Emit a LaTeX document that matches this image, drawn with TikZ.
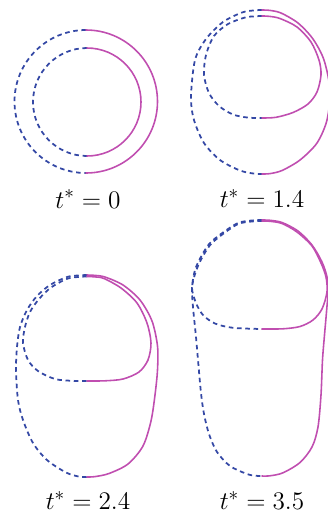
\documentclass[tikz,border=0pt]{standalone}
\definecolor{curveblue}{RGB}{52,72,165}
\definecolor{curvepink}{RGB}{192,78,176}
\begin{document}
\begin{tikzpicture}[x={(0.02cm,0cm)}, y={(0cm,-0.02cm)},line join=round,line cap=round,
	lefthalf/.style={curveblue, line width=1pt, dash pattern=on 2.6pt off 2.1pt, line cap=butt},
	righthalf/.style={curvepink, line width=.9pt},
	timelabel/.style={anchor=base, inner sep=0pt, font=\fontsize{15}{18}\selectfont}]

	% Khung hình
	\useasboundingbox (0,0) rectangle (328,512);
	\clip (0,0) rectangle (328,512);

	% t* = 0 : hai đường tròn
	\draw[lefthalf] (86,30) arc[start angle=270, end angle=90, radius=71.5];
	\draw[righthalf] (86,30) arc[start angle=-90, end angle=90, radius=71.5];
	\draw[lefthalf] (87,48) arc[start angle=270, end angle=90, radius=54];
	\draw[righthalf] (87,48) arc[start angle=-90, end angle=90, radius=54];
	\node[timelabel] (lab0) at (88,208) {$t^* = 0$};

	% t* = 1.4
	\draw[lefthalf] plot[smooth] coordinates {(262,10) (254,10.4) (242,12.5) (223,22) (206,39) (195,60) (191,97) (194,120) (204,143) (220,160) (240,170.5) (254,173.6) (262,174)};
	\draw[righthalf] plot[smooth] coordinates {(262,10) (270,10.4) (281,13) (298,23) (313,39) (324,60) (330,90) (327,120) (317,143) (300,160) (282,170.5) (270,173.6) (262,174)};
	\draw[lefthalf] plot[smooth] coordinates {(262,16) (255,16.3) (245,17.5) (228,24) (214,36) (206,55) (204,75) (209,93) (219,106) (233,114.5) (248,117.6) (262,118)};
	\draw[righthalf] plot[smooth] coordinates {(262,16) (269,16.3) (280,18.5) (297,27) (311,42) (319,60) (321,75) (317,92) (308,104) (293,112.5) (276,117.3) (262,118)};
	\node[timelabel] (lab1) at (262,207.5) {$t^* = 1.4$};

	% t* = 2.4
	\draw[lefthalf] plot[smooth] coordinates {(87,275) (79,275.4) (67,277) (50,285) (37,296) (27,310) (20,327) (17,347) (16,370) (18,400) (23,420) (33,443) (47,460) (66,472.5) (79,476.6) (87,477)};
	\draw[righthalf] plot[smooth] coordinates {(87,275) (95,275.4) (105,277) (123,285) (140,300) (152,321) (157.5,346) (157.5,370) (155,395) (151,421) (143,446) (128,464) (109,473.5) (95,476.6) (87,477)};
	\draw[lefthalf] plot[smooth] coordinates {(87,276.5) (79,276.9) (67,278.8) (51,287.5) (39,299) (30,312) (25,327) (23,343) (28,360) (38,371) (55,379) (72,380.8) (87,381)};
	\draw[righthalf] plot[smooth] coordinates {(87,276.5) (95,276.9) (104,278.5) (121,288) (137,303) (147,323) (151,343) (148,360) (139,372) (123,379) (105,380.8) (87,381)};
	\node[timelabel] (lab2) at (88,509.5) {$t^* = 2.4$};

	% t* = 3.5
	\draw[lefthalf] plot[smooth] coordinates {(262,220) (254,220.3) (237,223.5) (212,241) (202,255) (195,270) (192,288) (193,307) (196,337) (198,360) (201,393) (204,414) (209,434) (217,452) (230,466) (247,474) (256,475.8) (262,476)};
	\draw[righthalf] plot[smooth] coordinates {(262,220) (270,220.3) (282,222.5) (298,231) (312,245) (322,262) (327,277) (328,292) (326.5,312) (324.5,335) (322.5,360) (321,395) (318,427) (312,447) (300,462.5) (283,472.8) (270,475.8) (262,476)};
	\draw[lefthalf] plot[smooth] coordinates {(262,221) (254,221.3) (237,224.5) (213,242) (203,256) (196,271) (192,288) (196,303) (203,315) (215,323.5) (233,327.8) (262,329)};
	\draw[righthalf] plot[smooth] coordinates {(262,221) (270,221.3) (282,223.5) (297,232) (312,246) (321,263) (326,277) (327,292) (322,309) (313,320) (300,326.5) (283,328.8) (262,329)};
	\node[timelabel] (lab3) at (262,509.5) {$t^* = 3.5$};

\end{tikzpicture}
\end{document}
